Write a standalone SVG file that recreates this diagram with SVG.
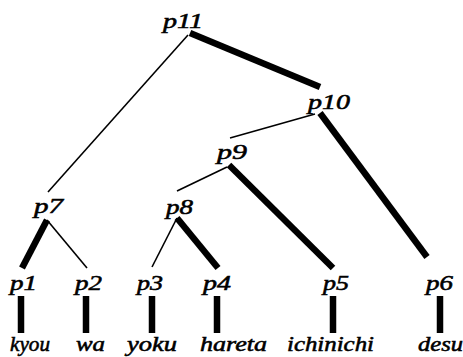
<svg xmlns="http://www.w3.org/2000/svg" width="463" height="357" viewBox="0 0 463 357">
<style>
text{font-family:"Liberation Serif","Times New Roman",serif;font-style:italic;font-size:21px;fill:#000;stroke:#000;stroke-width:0.55}
.thin{stroke:#000;stroke-width:1.6;fill:none}
.thick{stroke:#000;stroke-width:6.5;fill:none;stroke-linecap:butt}
</style>
<rect width="463" height="357" fill="#fff"/>
<g id="connectors">
<line class="thick" x1="190" y1="33" x2="320" y2="87"/>
<line class="thin" x1="188" y1="35" x2="48" y2="192"/>
<line class="thin" x1="315" y1="114" x2="230" y2="138"/>
<line class="thick" x1="320" y1="113" x2="427" y2="257"/>
<line class="thin" x1="227" y1="167" x2="177" y2="191"/>
<line class="thick" x1="229" y1="165" x2="333" y2="268"/>
<line class="thick" x1="47" y1="220" x2="22" y2="268"/>
<line class="thin" x1="47" y1="220" x2="87" y2="268"/>
<line class="thin" x1="177" y1="218" x2="152" y2="267"/>
<line class="thick" x1="177" y1="218" x2="218" y2="268"/>
<line class="thick" x1="21" y1="296" x2="21" y2="333"/>
<line class="thick" x1="86" y1="296" x2="86" y2="333"/>
<line class="thick" x1="152" y1="296" x2="152" y2="333"/>
<line class="thick" x1="217" y1="296" x2="217" y2="333"/>
<line class="thick" x1="333" y1="296" x2="333" y2="333"/>
<line class="thick" x1="440" y1="296" x2="440" y2="333"/>
</g>
<g id="p11"><text x="163" y="28" textLength="40" lengthAdjust="spacingAndGlyphs">p11</text></g>
<g id="p10"><text x="308" y="109" textLength="42" lengthAdjust="spacingAndGlyphs">p10</text></g>
<g id="p9"><text x="217" y="159" textLength="30" lengthAdjust="spacingAndGlyphs">p9</text></g>
<g id="p8"><text x="166" y="214" textLength="27" lengthAdjust="spacingAndGlyphs">p8</text></g>
<g id="p7"><text x="34" y="213" textLength="29" lengthAdjust="spacingAndGlyphs">p7</text></g>
<g id="p1"><text x="10" y="290" textLength="27" lengthAdjust="spacingAndGlyphs">p1</text></g>
<g id="p2"><text x="75" y="290" textLength="27" lengthAdjust="spacingAndGlyphs">p2</text></g>
<g id="p3"><text x="137" y="290" textLength="26" lengthAdjust="spacingAndGlyphs">p3</text></g>
<g id="p4"><text x="203" y="290" textLength="28" lengthAdjust="spacingAndGlyphs">p4</text></g>
<g id="p5"><text x="323" y="290" textLength="26" lengthAdjust="spacingAndGlyphs">p5</text></g>
<g id="p6"><text x="426" y="290" textLength="27" lengthAdjust="spacingAndGlyphs">p6</text></g>
<g id="w-kyou"><text x="10" y="351" textLength="40" lengthAdjust="spacingAndGlyphs">kyou</text></g>
<g id="w-wa"><text x="76" y="351" textLength="29" lengthAdjust="spacingAndGlyphs">wa</text></g>
<g id="w-yoku"><text x="127" y="351" textLength="50" lengthAdjust="spacingAndGlyphs">yoku</text></g>
<g id="w-hareta"><text x="200" y="351" textLength="67" lengthAdjust="spacingAndGlyphs">hareta</text></g>
<g id="w-ichinichi"><text x="287" y="351" textLength="87" lengthAdjust="spacingAndGlyphs">ichinichi</text></g>
<g id="w-desu"><text x="418" y="351" textLength="45" lengthAdjust="spacingAndGlyphs">desu</text></g>
</svg>
